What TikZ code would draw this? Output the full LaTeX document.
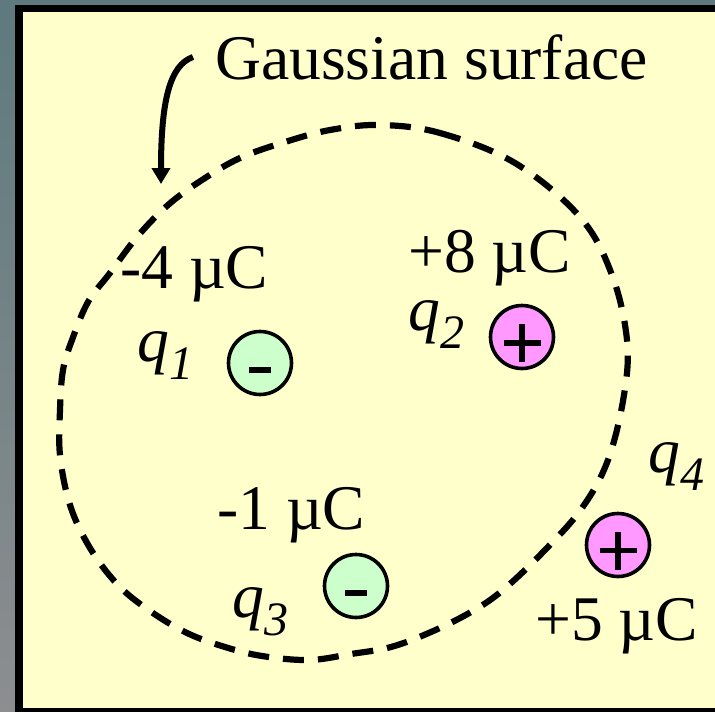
\documentclass[tikz,border=0pt]{standalone}
\usepackage{fontspec}
\setmainfont{Liberation Serif}
\usetikzlibrary{arrows.meta}
\definecolor{panelyellow}{HTML}{FFFFCC}
\definecolor{neggreen}{HTML}{CCFFCC}
\definecolor{pospink}{HTML}{FF99FF}
\definecolor{bgtop}{HTML}{5E7A7E}
\definecolor{bgbot}{HTML}{8C8E90}
\newcommand{\qsub}[1]{\textit{q}\raisebox{-18.5pt}{\fontsize{48}{50}\selectfont\itshape #1}}
\begin{document}
\begin{tikzpicture}[x=1pt,y=-1pt,
  lbl/.style={anchor=base west, inner sep=0pt, font=\fontsize{63.6}{70}\selectfont},
  charge/.style={circle, draw=black, line width=3.6pt, minimum size=63pt, inner sep=0pt},
  negcharge/.style={charge, fill=neggreen},
  poscharge/.style={charge, fill=pospink},
  signstroke/.style={line width=5.5pt},
  gauss/.style={line width=6.2pt, dash pattern=on 21pt off 14pt},
  pointer/.style={line width=6pt, -{Triangle[length=16pt,width=18pt]}}]
\useasboundingbox (0,0) rectangle (715,712);
\shade[top color=bgtop, bottom color=bgbot] (0,0) rectangle (715,712);
\fill[black] (15,5) rectangle (715,712);
\fill[panelyellow] (23,12) rectangle (715,708);

% Gaussian surface
\draw[gauss] plot[smooth cycle, tension=0.6] coordinates {
  (380,125) (440,133) (515,163) (580,217) (612,275) (627,340) (624,395)
  (608,460) (582,508) (545,550) (503,590) (471,612) (431,632) (391,647)
  (351,654) (309,660)
  (262,656) (225,647) (187,633) (150,611) (118,585) (90,548) (70,505) (60,455)
  (60,410) (63,370) (72,340) (88,302) (110,273) (137,237) (168,205)
  (202,180) (240,158) (285,142) (330,130)};

% label and pointer
\node[lbl] (gs) at (215,79) {Gaussian surface};
\coordinate (astart) at (193,57);
\coordinate (atip) at (161,184);
\draw[pointer] (astart) .. controls (170,65) and (161,100) .. (atip);

% charges
\node[negcharge] (c1) at (260,363) {};
\node[poscharge] (c2) at (522,337) {};
\node[negcharge] (c3) at (356,586) {};
\node[poscharge] (c4) at (618,545) {};
% signs
\draw[signstroke] ([shift={(-11,7)}]c1.center) -- ([shift={(11,7)}]c1.center);
\draw[signstroke] ([shift={(-11,7)}]c3.center) -- ([shift={(11,7)}]c3.center);
\draw[signstroke] ([shift={(-18.5,6)}]c2.center) -- ([shift={(18.5,6)}]c2.center);
\draw[signstroke] ([shift={(0,-13)}]c2.center) -- ([shift={(0,25)}]c2.center);
\draw[signstroke] ([shift={(-18.5,5.5)}]c4.center) -- ([shift={(18.5,5.5)}]c4.center);
\draw[signstroke] ([shift={(0,-13)}]c4.center) -- ([shift={(0,25)}]c4.center);

% values
\node[lbl] (v1) at (120,288) {-4 µC};
\node[lbl] (v2) at (408,272) {+8 µC};
\node[lbl] (v3) at (217,529) {-1 µC};
\node[lbl] (v4) at (535,640) {+5 µC};

% names
\node[lbl] (n1) at (137,361) {\qsub{1}};
\node[lbl] (n2) at (408,330) {\qsub{2}};
\node[lbl] (n3) at (232,617) {\qsub{3}};
\node[lbl] (n4) at (648,472) {\qsub{4}};
\end{tikzpicture}
\end{document}
